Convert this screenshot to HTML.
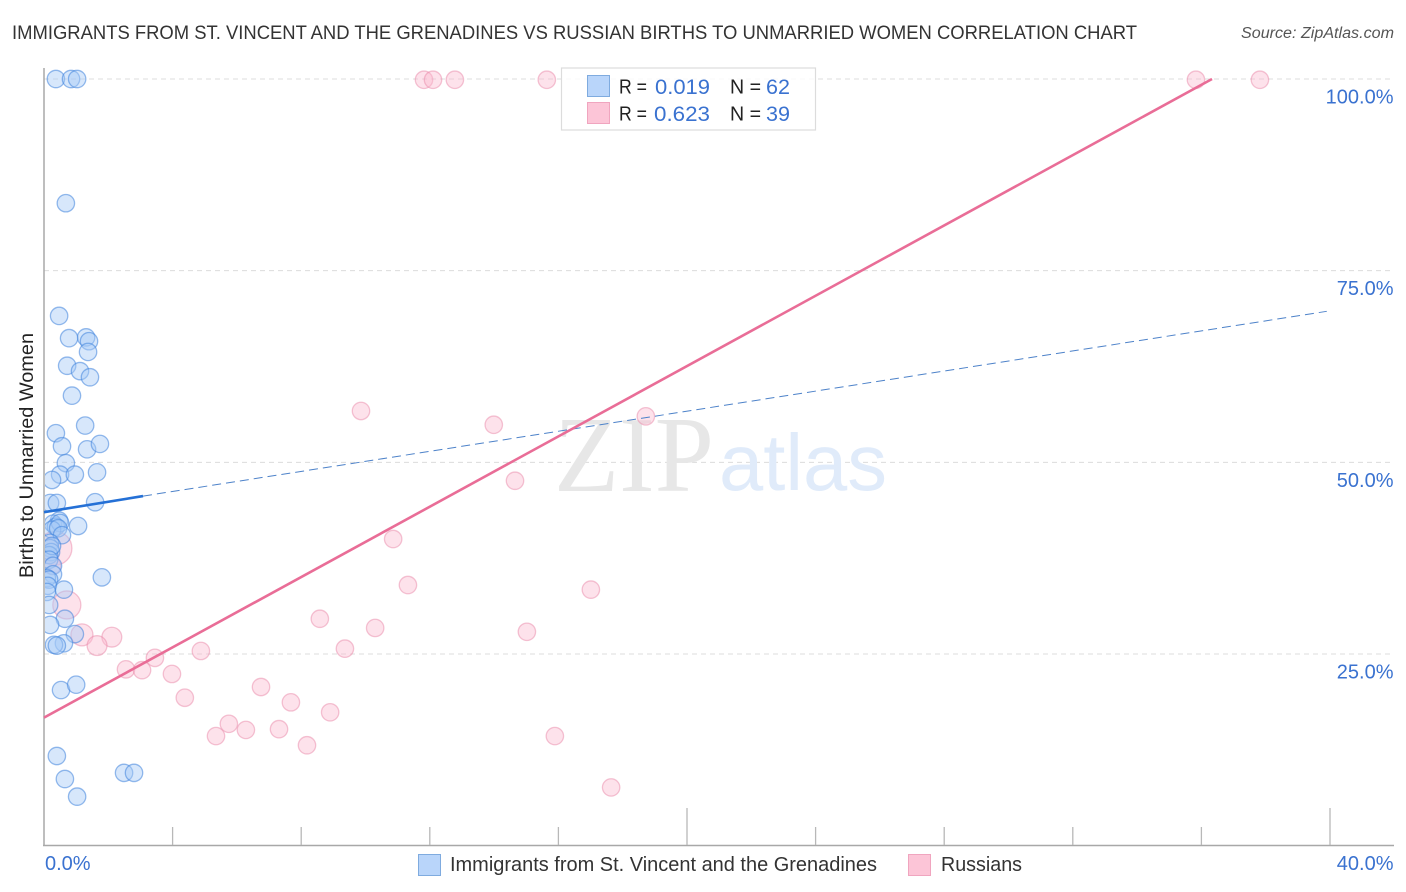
<!DOCTYPE html>
<html lang="en">
<head>
<meta charset="utf-8">
<title>Correlation chart</title>
<style>
html,body{margin:0;padding:0;background:#fff;width:1406px;height:892px;overflow:hidden}
svg{display:block;font-family:"Liberation Sans",sans-serif}
</style>
</head>
<body>
<svg id="chart" xmlns="http://www.w3.org/2000/svg" width="1406" height="892" viewBox="0 0 1406 892">
  <defs><clipPath id="plot-clip"><rect x="45" y="60" width="1349" height="785"/></clipPath></defs>
  <rect width="1406" height="892" fill="#fff"/>
  <text x="12" y="39" font-size="19.5" fill="#333" textLength="1125" lengthAdjust="spacingAndGlyphs">IMMIGRANTS FROM ST. VINCENT AND THE GRENADINES VS RUSSIAN BIRTHS TO UNMARRIED WOMEN CORRELATION CHART</text>
  <text x="1394" y="38" font-size="15.5" font-style="italic" fill="#555" text-anchor="end" textLength="153" lengthAdjust="spacingAndGlyphs">Source: ZipAtlas.com</text>
  <g id="grid"></g>
  <g>
    <text x="554" y="491" font-family="'Liberation Serif',serif" font-size="108" fill="#e7e7e7" textLength="160" lengthAdjust="spacingAndGlyphs">ZIP</text>
    <text x="719" y="490" font-size="80" fill="#e0ebfa" textLength="168" lengthAdjust="spacingAndGlyphs">atlas</text>
  </g>
  <g id="axes"></g>
  <g id="pink-points" clip-path="url(#plot-clip)"></g>
  <g id="blue-points" clip-path="url(#plot-clip)"></g>
  <g id="trends"></g>
  <g id="tick-labels"></g>
  <text transform="translate(33,578) rotate(-90)" font-size="19.5" fill="#222" textLength="245" lengthAdjust="spacingAndGlyphs">Births to Unmarried Women</text>

  <g>
    <rect x="561.5" y="68" width="254" height="62" fill="#fff" fill-opacity="0.85" stroke="#dcdcdc" stroke-width="1.2"/>
    <rect x="587.5" y="75.5" width="22" height="21" fill="#b9d5fa" stroke="#7fabdf"/>
    <rect x="587.5" y="102.5" width="22" height="21" fill="#fcc5d7" stroke="#f0a5bf"/>
    <text x="619" y="93.5" font-size="20" fill="#222" textLength="28" lengthAdjust="spacingAndGlyphs">R =</text>
    <text x="655" y="94" font-size="21" fill="#3a72d0" textLength="55" lengthAdjust="spacingAndGlyphs">0.019</text>
    <text x="730" y="93.5" font-size="20" fill="#222" textLength="31" lengthAdjust="spacingAndGlyphs">N =</text>
    <text x="766" y="94" font-size="21" fill="#3a72d0" textLength="24" lengthAdjust="spacingAndGlyphs">62</text>
    <text x="619" y="120.5" font-size="20" fill="#222" textLength="28" lengthAdjust="spacingAndGlyphs">R =</text>
    <text x="654" y="121" font-size="21" fill="#3a72d0" textLength="56" lengthAdjust="spacingAndGlyphs">0.623</text>
    <text x="730" y="120.5" font-size="20" fill="#222" textLength="31" lengthAdjust="spacingAndGlyphs">N =</text>
    <text x="766" y="121" font-size="21" fill="#3a72d0" textLength="24" lengthAdjust="spacingAndGlyphs">39</text>
  </g>

  <g>
    <rect x="418.5" y="854.5" width="22" height="21" fill="#b9d5fa" stroke="#7fabdf"/>
    <text x="450" y="871" font-size="20" fill="#333" textLength="427" lengthAdjust="spacingAndGlyphs">Immigrants from St. Vincent and the Grenadines</text>
    <rect x="908.5" y="854.5" width="22" height="21" fill="#fcc5d7" stroke="#f0a5bf"/>
    <text x="941" y="871" font-size="20" fill="#333" textLength="81" lengthAdjust="spacingAndGlyphs">Russians</text>
  </g>
</svg>
<script>
const xTickValues = [4, 8, 12, 16, 20, 24, 28, 32, 36, 40];
const xMajorTicks = [20, 40];
const yGridValues = [25, 50, 75, 100];
const yTickLabels = ["25.0%", "50.0%", "75.0%", "100.0%"];
const xEndLabels = ["0.0%", "40.0%"];
const xEndValues = [0, 40];

const blueX = [0.37,0.84,1.03,0.68,0.47,1.31,0.78,1.40,1.37,0.72,1.12,1.43,0.87,1.28,0.37,0.56,1.34,1.74,0.68,1.65,0.50,0.96,0.25,1.59,0.19,0.40,0.47,1.06,0.28,0.37,0.50,0.25,0.44,0.56,0.19,0.19,0.22,0.16,0.25,0.16,0.28,0.28,0.09,0.16,1.80,0.12,0.62,0.09,0.16,0.65,0.19,0.96,0.62,0.31,0.40,0.53,1.00,0.40,0.65,1.03,2.49,2.80];
const blueY = [100,100,100,83.8,69.1,66.3,66.2,65.8,64.4,62.6,61.9,61.1,58.7,54.8,53.8,52.1,51.7,52.4,49.9,48.7,48.4,48.4,47.7,44.8,44.7,44.7,42.4,41.7,42.0,41.6,42.1,41.2,41.4,40.5,39.5,38.8,38.3,37.9,39.1,37.3,36.5,35.4,34.9,34.7,35.0,33.9,33.4,33.1,31.4,29.6,28.8,27.6,26.4,26.2,26.1,20.3,21.0,11.7,8.7,6.4,9.5,9.5];

const pinkX = [11.82,12.10,12.78,15.64,35.83,37.82,9.86,13.99,18.72,14.65,10.86,11.32,17.01,8.58,10.30,15.02,9.36,1.18,2.11,1.65,2.55,3.05,3.45,3.98,4.88,4.38,6.75,7.68,8.90,5.35,5.75,6.28,7.31,8.18,15.89,17.64,0.34,0.71,0.25];
const pinkY = [99.9,99.9,99.9,99.9,99.9,99.9,56.7,54.9,56.0,47.6,40.0,34.0,33.4,29.6,28.4,27.9,25.7,27.5,27.2,26.1,23.0,22.9,24.5,22.4,25.4,19.3,20.7,18.7,17.4,14.3,15.9,15.1,15.2,13.1,14.3,7.6,38.8,31.4,36.5];
const pinkSize = [1,1,1,1,1,1,1,1,1,1,1,1,1,1,1,1,1,1.6,1.3,1.3,1,1,1,1,1,1,1,1,1,1,1,1,1,1,1,1,3.8,2.6,1];

const blueTrendX = [0, 3.08, 39.9];
const blueTrendY = [43.5, 45.6, 69.7];
const pinkTrendX = [0, 36.33];
const pinkTrendY = [16.7, 100];

const NS = "http://www.w3.org/2000/svg";
const plotLeft = 44, plotRight = 1330, plotBottom = 845.7, plotTop = 79;
function xScale(v) { return plotLeft + v / 40 * (plotRight - plotLeft); }
function yScale(v) { return plotBottom + v / 100 * (plotTop - plotBottom); }
function rScale(s) { return 8.7 * Math.sqrt(s); }
function make(tag, parentId, props) {
  const el = document.createElementNS(NS, tag);
  for (const k in props) el.setAttribute(k, props[k]);
  document.getElementById(parentId).appendChild(el);
  return el;
}

yGridValues.forEach(function (v, i) {
  const g = make("line", "grid", { x1: plotLeft, x2: 1393, y1: yScale(v), y2: yScale(v), stroke: "#dcdcdc", "stroke-width": 1, "stroke-dasharray": "5 4" });
  
  
  const t = make("text", "tick-labels", { x: 1393.5, y: yScale(v) + 24.5, "font-size": 20, fill: "#3a72d0", "text-anchor": "end" });
  
  
  t.textContent = yTickLabels[i];
});

const yAxis = make("line", "axes", { x1: 44, x2: 44, y1: 68, y2: 846, stroke: "#a8a8a8", "stroke-width": 1.5 });


const xAxis = make("line", "axes", { x1: 43, x2: 1394, y1: 845.5, y2: 845.5, stroke: "#a8a8a8", "stroke-width": 1.5 });



xTickValues.forEach(function (v) {
  const major = xMajorTicks.indexOf(v) >= 0;
  const t = make("line", "axes", { x1: xScale(v), x2: xScale(v), y1: major ? 808 : 827, y2: 845, stroke: "#b8b8b8", "stroke-width": 1.3 });
  
  
});

xEndValues.forEach(function (v, i) {
  const t = make("text", "tick-labels", { x: i === 0 ? xScale(v) + 1 : 1393.5, y: 870, "font-size": 20, fill: "#3a72d0", "text-anchor": i === 0 ? "start" : "end" });
  
  
  t.textContent = xEndLabels[i];
});

pinkX.forEach(function (v, i) {
  const c = make("circle", "pink-points", { cx: xScale(v), cy: yScale(pinkY[i]), r: rScale(pinkSize[i]), fill: "#fbb9cf", "fill-opacity": 0.42, stroke: "#e98aa9", "stroke-opacity": 0.5, "stroke-width": 1.3 });
  
  
});

blueX.forEach(function (v, i) {
  const c = make("circle", "blue-points", { cx: xScale(v), cy: yScale(blueY[i]), r: 8.7, fill: "#a6caf7", "fill-opacity": 0.45, stroke: "#3f84dd", "stroke-opacity": 0.55, "stroke-width": 1.3 });
  
  
});

const blueDash = make("line", "trends", { x1: xScale(blueTrendX[1]), y1: yScale(blueTrendY[1]), x2: xScale(blueTrendX[2]), y2: yScale(blueTrendY[2]), stroke: "#4d82c9", "stroke-width": 1, "stroke-dasharray": "9 5" });


const blueSolid = make("line", "trends", { x1: xScale(blueTrendX[0]), y1: yScale(blueTrendY[0]), x2: xScale(blueTrendX[1]), y2: yScale(blueTrendY[1]), stroke: "#2470d6", "stroke-width": 2.6 });


const pinkLine = make("line", "trends", { x1: xScale(pinkTrendX[0]), y1: yScale(pinkTrendY[0]), x2: xScale(pinkTrendX[1]), y2: yScale(pinkTrendY[1]), stroke: "#e96d97", "stroke-width": 2.6 });


</script>
</body>
</html>
